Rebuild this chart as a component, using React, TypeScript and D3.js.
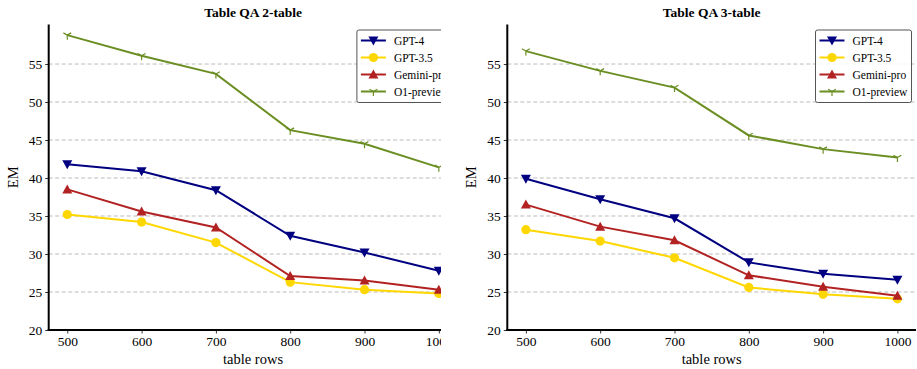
import { useEffect, useRef } from "react";
import * as d3 from "d3";

const rows = [500, 600, 700, 800, 900, 1000];
const yTicks = [20, 25, 30, 35, 40, 45, 50, 55];
const models = ["GPT-4", "GPT-3.5", "Gemini-pro", "O1-preview"];
const colors = ["#000080", "#FFD700", "#B22222", "#6B8E23"];
const markers = ["tridown", "circle", "triup", "tri1"];

const twoTableGpt4 = [41.8, 40.9, 38.4, 32.4, 30.2, 27.8];
const twoTableGpt35 = [35.2, 34.2, 31.5, 26.3, 25.3, 24.8];
const twoTableGemini = [38.5, 35.6, 33.5, 27.1, 26.5, 25.3];
const twoTableO1 = [58.8, 56.1, 53.7, 46.3, 44.5, 41.4];

const threeTableGpt4 = [39.9, 37.2, 34.7, 28.9, 27.4, 26.6];
const threeTableGpt35 = [33.2, 31.7, 29.5, 25.6, 24.7, 24.1];
const threeTableGemini = [36.5, 33.6, 31.8, 27.2, 25.7, 24.5];
const threeTableO1 = [56.7, 54.1, 51.9, 45.6, 43.8, 42.7];

const W = 917;
const H = 369;
const FONT = "Liberation Serif, Times New Roman, serif";

function drawMarker(g: any, kind: string, x: number, y: number, color: string) {
  if (kind === "circle") {
    g.append("circle").attr("cx", x).attr("cy", y).attr("r", 4.6).attr("fill", color);
  } else if (kind === "tridown") {
    const s = 5;
    g.append("path")
      .attr("d", `M${x - s},${y - s * 0.8}L${x + s},${y - s * 0.8}L${x},${y + s}Z`)
      .attr("fill", color);
  } else if (kind === "triup") {
    const s = 5;
    g.append("path")
      .attr("d", `M${x - s},${y + s * 0.8}L${x + s},${y + s * 0.8}L${x},${y - s}Z`)
      .attr("fill", color);
  } else {
    const s = 4.5;
    g.append("path")
      .attr("d", `M${x},${y}L${x},${y + s}M${x},${y}L${x - s * 0.87},${y - s * 0.5}M${x},${y}L${x + s * 0.87},${y - s * 0.5}`)
      .attr("stroke", color)
      .attr("stroke-width", 1.2)
      .attr("fill", "none");
  }
}

function drawPanel(svg: any, title: string, series: number[][], left: number, right: number, clipRight: number, id: string) {
  const top = 24.5;
  const bottom = 330;

  const x = d3.scaleLinear().domain([475, 1025]).range([left, right]);
  const y = d3.scaleLinear().domain([20, 60.2]).range([bottom, top]);

  svg.append("clipPath").attr("id", id)
    .append("rect").attr("x", 0).attr("y", 0).attr("width", clipRight).attr("height", H);

  const g = svg.append("g").attr("clip-path", `url(#${id})`).style("font-family", FONT);

  // grid
  g.append("g").selectAll("line")
    .data(yTicks.filter(t => t > 20))
    .join("line")
    .attr("x1", left).attr("x2", right)
    .attr("y1", (d: number) => y(d)).attr("y2", (d: number) => y(d))
    .attr("stroke", "#aaa")
    .attr("stroke-width", 0.8)
    .attr("stroke-dasharray", "4,2.5");

  // lines + markers
  const line = d3.line<number>()
    .x((_, i) => x(rows[i]))
    .y(d => y(d));

  series.forEach((vals, k) => {
    g.append("path")
      .datum(vals)
      .attr("fill", "none")
      .attr("stroke", colors[k])
      .attr("stroke-width", 2)
      .attr("d", line);
    vals.forEach((v, i) => drawMarker(g, markers[k], x(rows[i]), y(v), colors[k]));
  });

  // y axis
  const yAxis = g.append("g")
    .attr("transform", `translate(${left},0)`)
    .call(d3.axisLeft(y).tickValues(yTicks).tickSize(3.5).tickPadding(3));
  yAxis.attr("font-family", null);
  yAxis.select(".domain").remove();
  yAxis.selectAll("line").attr("stroke", "#000").attr("stroke-width", 0.8);
  yAxis.selectAll("text").style("font-family", FONT).style("font-size", "13.5px").attr("fill", "#000");

  // x axis
  const xAxis = g.append("g")
    .attr("transform", `translate(0,${bottom})`)
    .call(d3.axisBottom(x).tickValues(rows).tickFormat(d3.format("d")).tickSize(3.5).tickPadding(3));
  xAxis.attr("font-family", null);
  xAxis.select(".domain").remove();
  xAxis.selectAll("line").attr("stroke", "#000").attr("stroke-width", 0.8);
  xAxis.selectAll("text").style("font-family", FONT).style("font-size", "13.5px").attr("fill", "#000");

  // spines
  g.append("line").attr("x1", left).attr("x2", left).attr("y1", top).attr("y2", bottom + 1)
    .attr("stroke", "#000").attr("stroke-width", 2);
  g.append("line").attr("x1", left - 1).attr("x2", right).attr("y1", bottom).attr("y2", bottom)
    .attr("stroke", "#000").attr("stroke-width", 2);

  // titles / labels
  const cx = (left + right) / 2;
  g.append("text").attr("x", cx).attr("y", 17).attr("text-anchor", "middle")
    .style("font-size", "13.5px").attr("font-weight", "bold").text(title);
  g.append("text").attr("x", cx).attr("y", 364).attr("text-anchor", "middle")
    .style("font-size", "14.5px").text("table rows");
  g.append("text").attr("transform", `translate(${left - 31},${(top + bottom) / 2}) rotate(-90)`)
    .attr("text-anchor", "middle").style("font-size", "14.5px").text("EM");

  // legend
  const lx = right - 100.5;
  const ly = 30;
  g.append("rect").attr("x", lx).attr("y", ly).attr("width", 96).attr("height", 72.5)
    .attr("rx", 2).attr("fill", "#fff").attr("fill-opacity", 0.85)
    .attr("stroke", "#555").attr("stroke-width", 1);
  models.forEach((m, k) => {
    const yy = ly + 10.5 + k * 17;
    g.append("line").attr("x1", lx + 4).attr("x2", lx + 29).attr("y1", yy).attr("y2", yy)
      .attr("stroke", colors[k]).attr("stroke-width", 2);
    drawMarker(g, markers[k], lx + 16.5, yy, colors[k]);
    g.append("text").attr("x", lx + 37).attr("y", yy + 4)
      .style("font-size", "11.5px").text(m);
  });
}

export default function App() {
  const svgRef = useRef<SVGSVGElement | null>(null);

  useEffect(() => {
    if (!svgRef.current) return;
    const svg = d3.select(svgRef.current);
    svg.selectAll("*").remove();

    drawPanel(svg, "Table QA 2-table",
      [twoTableGpt4, twoTableGpt35, twoTableGemini, twoTableO1],
      48.7, 457.4, 441, "clipLeft");
    drawPanel(svg, "Table QA 3-table",
      [threeTableGpt4, threeTableGpt35, threeTableGemini, threeTableO1],
      507.3, 916, W, "clipRight");
  }, []);

  return (
    <svg ref={svgRef} width={W} height={H}
      style={{ position: "absolute", left: 0, top: 0, background: "#fff" }} />
  );
}
